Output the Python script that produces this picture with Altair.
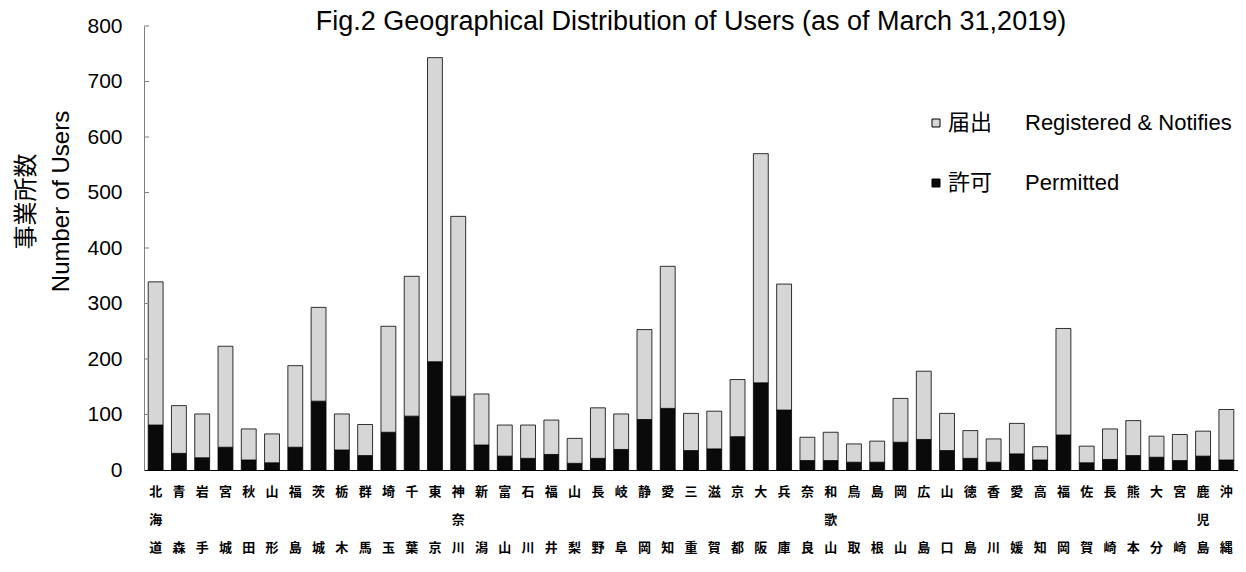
import altair as alt
import pandas as pd

prefectures = ["北海道", "青森", "岩手", "宮城", "秋田", "山形", "福島", "茨城", "栃木", "群馬",
               "埼玉", "千葉", "東京", "神奈川", "新潟", "富山", "石川", "福井", "山梨", "長野",
               "岐阜", "静岡", "愛知", "三重", "滋賀", "京都", "大阪", "兵庫", "奈良", "和歌山",
               "鳥取", "島根", "岡山", "広島", "山口", "徳島", "香川", "愛媛", "高知", "福岡",
               "佐賀", "長崎", "熊本", "大分", "宮崎", "鹿児島", "沖縄"]

# 許可 Permitted
permitted = [81, 30, 22, 41, 18, 13, 41, 124, 36, 26,
             68, 97, 195, 133, 45, 25, 21, 28, 12, 21,
             37, 91, 111, 35, 38, 60, 157, 108, 17, 17,
             14, 14, 50, 55, 35, 21, 14, 29, 18, 63,
             13, 19, 26, 23, 17, 25, 18]

# 届出 Registered & Notifies
registered = [258, 86, 79, 182, 56, 52, 147, 169, 65, 56,
              191, 252, 548, 324, 92, 56, 60, 62, 45, 91,
              64, 162, 256, 67, 68, 103, 413, 227, 42, 51,
              33, 38, 79, 123, 67, 50, 42, 55, 24, 192,
              30, 55, 63, 38, 47, 45, 91]

y_ticks = [0, 100, 200, 300, 400, 500, 600, 700, 800]

series_names = ["届出\u3000\u2002Registered & Notifies", "許可\u3000\u2002Permitted"]
series_colors = ["#d6d6d6", "#0a0a0a"]

rows = []
for i, p in enumerate(prefectures):
    rows.append({"pref": p, "series": series_names[1], "value": permitted[i], "ord": 0})
    rows.append({"pref": p, "series": series_names[0], "value": registered[i], "ord": 1})
df = pd.DataFrame(rows)
ticks_df = pd.DataFrame({"v": y_ticks[1:]})

LATIN = "Liberation Sans, Arial, Noto Sans CJK JP"
CJK = "Noto Sans CJK JP, DejaVu Sans"

label_expr = ("length(datum.label) == 3 ? "
              "[substring(datum.label,0,1), substring(datum.label,1,2), substring(datum.label,2,3)] : "
              "[substring(datum.label,0,1), '\u2800', substring(datum.label,1,2)]")

bars = alt.Chart(df).mark_bar(stroke="#000000", strokeWidth=0.8).encode(
    x=alt.X("pref:N", sort=prefectures,
            scale=alt.Scale(paddingInner=0.36, paddingOuter=0.18),
            axis=alt.Axis(title=None, labelAngle=0, labelExpr=label_expr,
                          labelFont=CJK, labelFontSize=13, labelFontWeight="bold",
                          labelColor="#000000", labelLineHeight=28, labelPadding=15,
                          labelOverlap=False, ticks=False, domainColor="#000000",
                          domainWidth=1)),
    y=alt.Y("value:Q", stack="zero",
            scale=alt.Scale(domain=[0, 800], nice=False),
            axis=alt.Axis(values=y_ticks, grid=False, ticks=False,
                          labelFont=LATIN, labelFontSize=21, labelColor="#000000",
                          labelPadding=22, domainColor="#808080",
                          title=["事業所数", "Number of Users"],
                          titleFont=LATIN, titleFontSize=24, titleFontWeight="normal",
                          titleColor="#000000", titleLineHeight=35, titlePadding=13,
                          titleY=175)),
    color=alt.Color("series:N", scale=alt.Scale(domain=series_names, range=series_colors),
                    legend=alt.Legend(title=None, orient="none", legendX=781, legendY=86,
                                      symbolType="square", symbolSize=64,
                                      symbolStrokeColor="#000000", symbolStrokeWidth=1,
                                      labelFont=LATIN, labelFontSize=22, labelColor="#000000",
                                      labelOffset=1, rowPadding=38, padding=0,
                                      labelLimit=400)),
    order=alt.Order("ord:Q", sort="ascending"),
)

inner_ticks = alt.Chart(ticks_df).mark_rule(color="#808080", strokeWidth=1).encode(
    y=alt.Y("v:Q"),
    x=alt.value(0),
    x2=alt.value(5),
)

chart = alt.layer(bars, inner_ticks).properties(
    width=1094,
    height=444,
    title=alt.TitleParams(
        text="Fig.2 Geographical Distribution of Users (as of March 31,2019)",
        font=LATIN, fontSize=27, fontWeight="normal", color="#000000",
        anchor="middle", offset=-21),
    autosize=alt.AutoSizeParams(type="none"),
    padding={"left": 136, "top": 18, "right": 0, "bottom": 86},
    background="#ffffff",
).configure_view(stroke=None)

chart.save("out.html", embed_options={"renderer": "svg", "actions": False})
